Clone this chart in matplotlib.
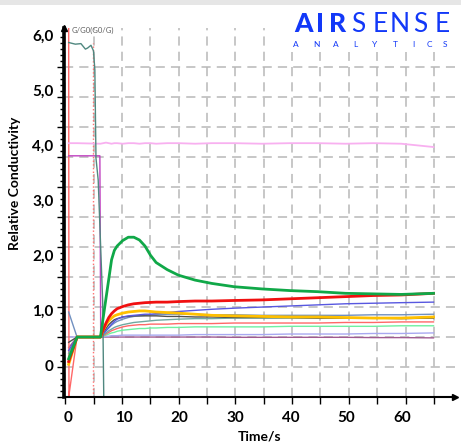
import numpy as np
import matplotlib.pyplot as plt
from matplotlib.patches import Rectangle

# shared time base (s)
t = [0.3, 1.8, 6.0, 6.5, 7, 7.5, 8, 8.5, 9, 10, 11, 12, 13, 14, 15, 16, 18, 20,
     23, 26, 30, 35, 40, 45, 50, 55, 60, 65.8]

green = [0.15, 0.545, 0.545, 0.9, 1.25, 1.6, 1.95, 2.12, 2.2, 2.3, 2.36, 2.36, 2.31, 2.2,
         2.03, 1.9, 1.77, 1.67, 1.58, 1.52, 1.46, 1.42, 1.39, 1.37, 1.34, 1.33, 1.32, 1.34]
red = [0.1, 0.545, 0.545, 0.68, 0.8, 0.9, 0.97, 1.02, 1.06, 1.1, 1.13, 1.15, 1.16, 1.17,
       1.175, 1.18, 1.18, 1.19, 1.2, 1.2, 1.21, 1.22, 1.24, 1.26, 1.28, 1.3, 1.31, 1.34]
orange = [0.05, 0.545, 0.545, 0.67, 0.77, 0.84, 0.89, 0.93, 0.95, 0.98, 1.0, 1.01, 1.02, 1.02,
          1.01, 1.0, 0.99, 0.98, 0.96, 0.94, 0.93, 0.92, 0.91, 0.91, 0.9, 0.89, 0.89, 0.91]
darkgray = [0.45, 0.545, 0.545, 0.62, 0.7, 0.77, 0.82, 0.86, 0.88, 0.91, 0.92, 0.93, 0.93, 0.93,
            0.93, 0.93, 0.92, 0.92, 0.91, 0.91, 0.9, 0.9, 0.9, 0.89, 0.89, 0.89, 0.88, 0.89]
blue = [0.3, 0.545, 0.545, 0.6, 0.66, 0.72, 0.78, 0.83, 0.87, 0.91, 0.93, 0.94, 0.95, 0.96,
        0.96, 0.97, 0.99, 1.01, 1.03, 1.05, 1.07, 1.09, 1.11, 1.13, 1.15, 1.16, 1.17, 1.18]
bluegray = [1.0, 0.545, 0.545, 0.6, 0.66, 0.71, 0.76, 0.8, 0.83, 0.87, 0.9, 0.92, 0.93, 0.94,
            0.95, 0.95, 0.96, 0.96, 0.96, 0.95, 0.95, 0.94, 0.94, 0.94, 0.94, 0.95, 0.95, 0.96]
teal = [0.25, 0.545, 0.545, 0.58, 0.62, 0.66, 0.69, 0.72, 0.74, 0.77, 0.79, 0.81, 0.82, 0.83,
        0.84, 0.85, 0.86, 0.87, 0.88, 0.88, 0.89, 0.89, 0.89, 0.89, 0.89, 0.89, 0.89, 0.9]
salmon = [-0.55, 0.545, 0.545, 0.57, 0.6, 0.63, 0.66, 0.68, 0.7, 0.73, 0.75, 0.76, 0.77, 0.77,
          0.78, 0.78, 0.78, 0.79, 0.79, 0.79, 0.8, 0.8, 0.8, 0.8, 0.81, 0.81, 0.82, 0.82]
mint = [0.2, 0.545, 0.545, 0.56, 0.58, 0.6, 0.62, 0.63, 0.65, 0.67, 0.68, 0.69, 0.7, 0.7,
        0.71, 0.71, 0.72, 0.72, 0.73, 0.73, 0.73, 0.73, 0.74, 0.74, 0.74, 0.74, 0.75, 0.75]
lavender = [0.55, 0.545, 0.545, 0.55, 0.56, 0.56, 0.57, 0.57, 0.57, 0.58, 0.58, 0.58, 0.58, 0.58,
            0.58, 0.58, 0.58, 0.58, 0.59, 0.59, 0.59, 0.59, 0.6, 0.6, 0.6, 0.61, 0.61, 0.62]
purple = [0.35, 0.545, 0.545, 0.545, 0.545, 0.545, 0.545, 0.545, 0.545, 0.545, 0.545, 0.545, 0.545, 0.545,
          0.545, 0.545, 0.545, 0.545, 0.545, 0.545, 0.54, 0.54, 0.54, 0.54, 0.54, 0.535, 0.535, 0.53]
pink = [4.07, 4.07, 4.06, 4.07, 4.08, 4.07, 4.06, 4.07, 4.07, 4.06, 4.07, 4.07, 4.06, 4.07,
        4.07, 4.06, 4.07, 4.07, 4.06, 4.07, 4.07, 4.06, 4.07, 4.07, 4.06, 4.07, 4.06, 4.0]

# spikes at the start of the measurement
teal_top_x = [0.3, 1.5, 2.5, 3.3, 3.7, 4.3, 4.75, 5.0, 5.2, 5.6, 6.4, 6.6]
teal_top_y = [5.9, 5.87, 5.88, 5.78, 5.8, 5.85, 5.75, 5.4, 3.8, 3.4, 1.2, -0.55]
magenta_x = [0.3, 5.9, 6.05, 6.3]
magenta_y = [3.84, 3.84, 0.545, 0.545]
red_spike_x = [0.3, 0.35]
red_spike_y = [6.3, -0.55]
marker_time = 4.67

fig = plt.figure(figsize=(4.61, 4.43), dpi=100)
ax = fig.add_axes([64/461, 1-397/443, (455-64)/461, (397-28)/443])
ax.set_xlim(-0.54, 69.66)
ax.set_ylim(-0.545, 6.164)

fam = ['Lato', 'DejaVu Sans']

# grid (independent of the labels, as in the original software)
gx = -0.3 + 5.09*np.arange(0, 14)
gy = 0.545*np.arange(0, 12) - 0.545
ax.set_xticks(gx)
ax.set_yticks(gy)
ax.set_yticks(np.arange(-0.545, 6.1, 0.109), minor=True)
ax.set_xticklabels([])
ax.set_yticklabels([])
ax.tick_params(axis='both', which='major', length=5, width=1, color='black', direction='out')
ax.tick_params(axis='y', which='minor', length=3, width=1, color='black')
ax.grid(True, which='major', color='#b8b8b8', linestyle=(0, (6, 4)), linewidth=1.1)
ax.set_axisbelow(True)

for v in range(7):
    ax.text(-0.54 - 1.9, v, f'{v},0' if v else '0', ha='right', va='center',
            fontsize=11, fontweight='bold', family=fam)
for v in range(0, 61, 10):
    ax.text(v + 0.2, -0.545 - 0.38, str(v), ha='center', va='center',
            fontsize=11, fontweight='bold', family=fam)

ax.spines['top'].set_visible(False)
ax.spines['right'].set_visible(False)
ax.spines['left'].set_linewidth(2.6)
ax.spines['bottom'].set_linewidth(1.5)
ax.plot(0, 1, '^k', ms=5, transform=ax.transAxes, clip_on=False)
ax.plot(1, 0, '>k', ms=5, transform=ax.transAxes, clip_on=False)

# marker line
ax.axvline(marker_time, ymax=0.96, color='#ff7070', linestyle=':', linewidth=1)

# thin sensor curves
ax.plot(t, purple, color='#a05a90', lw=1)
ax.plot(t, lavender, color='#a8a8f0', lw=1)
ax.plot(t, mint, color='#70f0a0', lw=1)
ax.plot(red_spike_x + t, red_spike_y + salmon, color='#ff6868', lw=1)
ax.plot(t, teal, color='#70a8a0', lw=1)
ax.plot(t, bluegray, color='#7090c0', lw=1)
ax.plot(t, darkgray, color='#505050', lw=1)
ax.plot(t, blue, color='#5858e0', lw=1)
ax.plot(t, pink, color='#f8b0f0', lw=1.3)
ax.plot(magenta_x, magenta_y, color='#c040c0', lw=1)
ax.plot(teal_top_x, teal_top_y, color='#508880', lw=1)

# thick sensor curves
ax.plot(t, orange, color='#ffc000', lw=2)
ax.plot(t, red, color='#f01010', lw=2)
ax.plot(t, green, color='#10a848', lw=2)

ax.text(-0.125, 0.58, 'Relative Conductivity', transform=ax.transAxes, rotation=90,
        ha='center', va='center', fontsize=10, fontweight='bold', family=fam)
ax.text(0.501, -0.108, 'Time/s', transform=ax.transAxes, ha='center', va='center',
        fontsize=10, fontweight='bold', family=fam)
ax.text(0.9, 6.05, 'G/G0(G0/G)', fontsize=5.5, color='#606060', family=fam, va='bottom')

# logo on a white box
ax.add_patch(Rectangle((280/461, 1-52/443), 181/461, 52/443, transform=fig.transFigure,
                       facecolor='white', edgecolor='none', zorder=10, clip_on=False))
fig.patches.append(Rectangle((0, 1-5/443), 1, 5/443, transform=fig.transFigure,
                             facecolor='#e6e6e6', edgecolor='none'))
logo_blue = '#1238f8'
for ch, cx in zip('AIR', [303, 320, 338]):
    fig.text(cx/461, 1-32/443, ch, color=logo_blue, fontsize=19, fontweight='black',
             family=fam, ha='center', zorder=11)
for ch, cx in zip('SENSE', [358, 380, 400, 420, 442]):
    fig.text(cx/461, 1-32/443, ch, color=logo_blue, fontsize=19,
             family=fam, ha='center', zorder=11)
for ch, cx in zip('ANALYTICS', [296, 316, 336, 355, 375, 395, 413, 429, 445]):
    fig.text(cx/461, 1-47/443, ch, color=logo_blue, fontsize=6,
             family=fam, ha='center', zorder=11)

fig.savefig('out.png', dpi=100)
